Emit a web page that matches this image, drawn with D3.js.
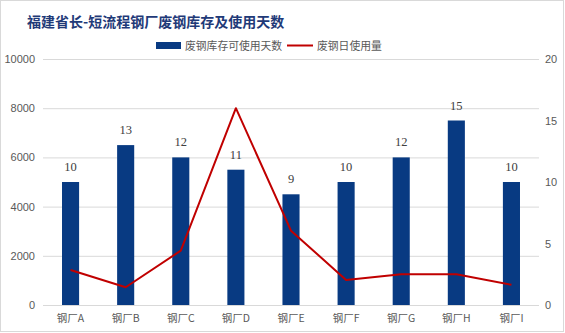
<!DOCTYPE html>
<html><head><meta charset="utf-8">
<script src="https://cdn.jsdelivr.net/npm/d3@7"></script>
<style>body{margin:0;background:#fff}svg{display:block}</style>
</head><body>
<script>
const title = "福建省长-短流程钢厂废钢库存及使用天数";
const categories = ["钢厂A","钢厂B","钢厂C","钢厂D","钢厂E","钢厂F","钢厂G","钢厂H","钢厂I"];
const usableDays = [10,13,12,11,9,10,12,15,10];
const dailyUsage = [1420,720,2210,8000,3020,1020,1250,1250,820];
const leftTicks = [0,2000,4000,6000,8000,10000];
const rightTicks = [0,5,10,15,20];
const seriesNames = ["废钢库存可使用天数","废钢日使用量"];

const W=565,H=333;
const m={l:43,r:26,t:59,b:28};
const svg=d3.select("body").append("svg").attr("width",W).attr("height",H);
svg.append("rect").attr("x",0.5).attr("y",0.5).attr("width",W-2).attr("height",H-2)
  .attr("fill","#fff").attr("stroke","#d9d9d9");

const x=d3.scaleBand().domain(categories).range([m.l,W-m.r]).paddingInner(0.69).paddingOuter(0.345);
const yL=d3.scaleLinear().domain([0,10000]).range([H-m.b,m.t]);
const yR=d3.scaleLinear().domain([0,20]).range([H-m.b,m.t]);

// grid
svg.append("g").selectAll("line").data(leftTicks).join("line")
  .attr("x1",m.l).attr("x2",W-m.r).attr("y1",d=>yL(d)+0.5).attr("y2",d=>yL(d)+0.5)
  .attr("stroke","#d9d9d9").attr("stroke-width",1);

// left axis
const axL=d3.axisLeft(yL).tickValues(leftTicks).tickFormat(d3.format("d")).tickSize(0).tickPadding(8);
const gL=svg.append("g").attr("transform",`translate(${m.l},0)`).call(axL);
gL.select(".domain").remove();
gL.selectAll("text").attr("font-family","Liberation Sans, Arial").attr("font-size",11).attr("fill","#595959");

// right axis
const axR=d3.axisRight(yR).tickValues(rightTicks).tickFormat(d3.format("d")).tickSize(0).tickPadding(6);
const gR=svg.append("g").attr("transform",`translate(${W-m.r},0)`).call(axR);
gR.select(".domain").remove();
gR.selectAll("text").attr("font-family","Liberation Sans, Arial").attr("font-size",11).attr("fill","#595959");

// x axis labels
const axX=d3.axisBottom(x).tickSize(0).tickPadding(10);
const gX=svg.append("g").attr("transform",`translate(0,${H-m.b})`).call(axX);
gX.select(".domain").remove();
gX.selectAll("text").attr("font-family","Noto Sans CJK SC, sans-serif").attr("font-size",10.5).attr("fill","#595959");

// bars
svg.append("g").selectAll("rect").data(usableDays).join("rect")
  .attr("x",(d,i)=>x(categories[i])).attr("width",x.bandwidth())
  .attr("y",d=>yR(d)).attr("height",d=>yR(0)-yR(d)).attr("fill","#083a82");

// bar labels
svg.append("g").selectAll("text").data(usableDays).join("text")
  .attr("x",(d,i)=>x(categories[i])+x.bandwidth()/2).attr("y",d=>yR(d)-11)
  .attr("text-anchor","middle").attr("font-family","Liberation Serif, Times New Roman, serif")
  .attr("font-size",12.5).attr("fill","#404040").text(d=>d);

// line
const line=d3.line().x((d,i)=>x(categories[i])+x.bandwidth()/2).y(d=>yL(d));
svg.append("path").datum(dailyUsage).attr("d",line).attr("fill","none")
  .attr("stroke","#c00000").attr("stroke-width",2).attr("stroke-linejoin","round");

// title
svg.append("text").attr("x",27).attr("y",27).attr("font-family","Noto Sans CJK SC, sans-serif")
  .attr("font-weight","bold").attr("font-size",14).attr("fill","#1f3a78").text(title);

// legend
const lg=svg.append("g");
lg.append("rect").attr("x",156).attr("y",42).attr("width",25).attr("height",7).attr("fill","#083a82");
lg.append("text").attr("x",185).attr("y",49.5).attr("font-family","Noto Sans CJK SC, sans-serif")
  .attr("font-size",10.8).attr("fill","#595959").text(seriesNames[0]);
lg.append("line").attr("x1",287).attr("x2",313).attr("y1",45.5).attr("y2",45.5).attr("stroke","#c00000").attr("stroke-width",2);
lg.append("text").attr("x",317).attr("y",49.5).attr("font-family","Noto Sans CJK SC, sans-serif")
  .attr("font-size",10.8).attr("fill","#595959").text(seriesNames[1]);
</script>
</body></html>
